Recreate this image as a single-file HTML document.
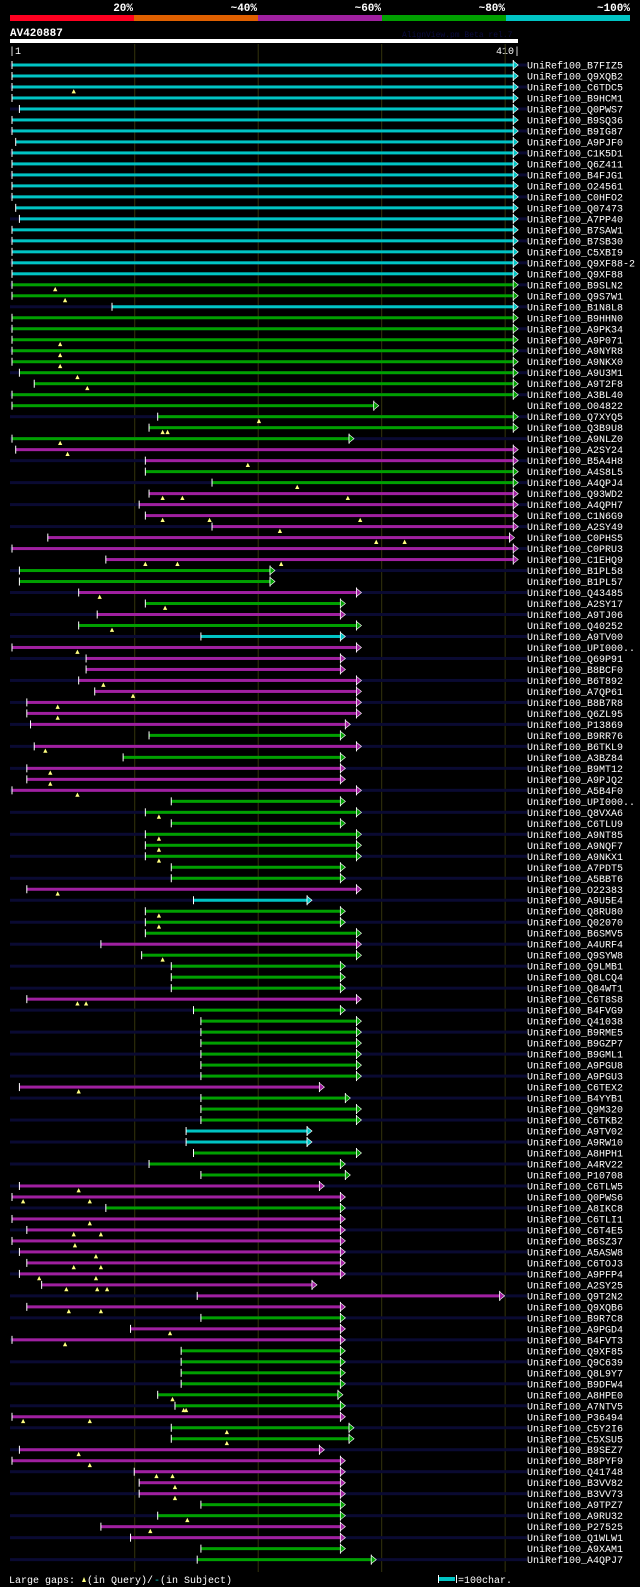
<!DOCTYPE html>
<html><head><meta charset="utf-8">
<style>
html,body{margin:0;padding:0;background:#000;}
body{width:640px;height:1587px;overflow:hidden;position:relative;font-family:"Liberation Mono","DejaVu Sans Mono",monospace;}
svg{position:absolute;left:0;top:0;}
text{font-family:"Liberation Mono","DejaVu Sans Mono",monospace;}
</style></head>
<body>
<svg id="chart" width="640" height="1587" xmlns="http://www.w3.org/2000/svg">
  <g>
    <rect x="10" y="15" width="124" height="6" fill="#ff0020"/>
    <rect x="134" y="15" width="124" height="6" fill="#e06000"/>
    <rect x="258" y="15" width="124" height="6" fill="#a020a0"/>
    <rect x="382" y="15" width="124" height="6" fill="#00a000"/>
    <rect x="506" y="15" width="124" height="6" fill="#00c4c4"/>
    <text x="133" y="11" fill="#fff" font-size="11" font-weight="bold" text-anchor="end">20%</text>
    <text x="257" y="11" fill="#fff" font-size="11" font-weight="bold" text-anchor="end">~40%</text>
    <text x="381" y="11" fill="#fff" font-size="11" font-weight="bold" text-anchor="end">~60%</text>
    <text x="505" y="11" fill="#fff" font-size="11" font-weight="bold" text-anchor="end">~80%</text>
    <text x="630" y="11" fill="#fff" font-size="11" font-weight="bold" text-anchor="end">~100%</text>
  </g>
  <text x="10" y="36" fill="#fff" font-size="11" font-weight="bold">AV420887</text>
  <text x="402" y="37" fill="#0c0c40" font-size="8">AlignView.pm Beta rel.7</text>
  <rect x="10" y="39" width="508" height="4" fill="#fff"/>
  <text x="9" y="54" fill="#fff" font-size="10">|1</text>
  <text x="520" y="54" fill="#fff" font-size="10" text-anchor="end">410|</text>
  <g id="grid"></g>
  <g id="rows"></g>
  <g>
    <text x="9" y="1583" fill="#fff" font-size="10">Large gaps:</text>
    <polygon points="82,1582 84,1577 86,1582" fill="#ffff80"/>
    <text x="87" y="1583" fill="#fff" font-size="10">(in Query)/</text>
    <text x="154" y="1583" fill="#00c4c4" font-size="10">-</text>
    <text x="160" y="1583" fill="#fff" font-size="10"> (in Subject)</text>
    <rect x="439" y="1577" width="16" height="4" fill="#00c4c4"/>
    <rect x="438" y="1575" width="1" height="8" fill="#fff"/>
    <rect x="456" y="1575" width="1" height="8" fill="#fff"/>
    <text x="458" y="1583" fill="#fff" font-size="10">=100char.</text>
  </g>
</svg>
<script>
const names = ["B7FIZ5","Q9XQB2","C6TDC5","B9HCM1","Q0PWS7","B9SQ36","B9IG87","A9PJF0","C1K5D1","Q6Z411","B4FJG1","O24561","C0HFO2","Q07473","A7PP40","B7SAW1","B7SB30","C5XBI9","Q9XF88-2","Q9XF88","B9SLN2","Q9S7W1","B1N8L8","B9HHN0","A9PK34","A9P071","A9NYR8","A9NKX0","A9U3M1","A9T2F8","A3BL40","O04822","Q7XYQ5","Q3B9U8","A9NLZ0","A2SY24","B5A4H8","A4S8L5","A4QPJ4","Q93WD2","A4QPH7","C1N6G9","A2SY49","C0PHS5","C0PRU3","C1EHQ9","B1PL58","B1PL57","Q43485","A2SY17","A9TJ06","Q40252","A9TV00","UPI000..","Q69P91","B8BCF0","B6T892","A7QP61","B8B7R8","Q6ZL95","P13869","B9RR76","B6TKL9","A3BZ84","B9MT12","A9PJQ2","A5B4F0","UPI000..","Q8VXA6","C6TLU9","A9NT85","A9NQF7","A9NKX1","A7PDT5","A5BBT6","O22383","A9U5E4","Q8RU80","Q02070","B6SMV5","A4URF4","Q9SYW8","Q9LMB1","Q8LCQ4","Q84WT1","C6T8S8","B4FVG9","Q41038","B9RME5","B9GZP7","B9GML1","A9PGU8","A9PGU3","C6TEX2","B4YYB1","Q9M320","C6TKB2","A9TV02","A9RW10","A8HPH1","A4RV22","P10708","C6TLW5","Q0PWS6","A8IKC8","C6TLI1","C6T4E5","B6SZ37","A5ASW8","C6TOJ3","A9PFP4","A2SY25","Q9T2N2","Q9XQB6","B9R7C8","A9PGD4","B4FVT3","Q9XF85","Q9C639","Q8L9Y7","B9DFW4","A8HPE0","A7NTV5","P36494","C5Y2I6","C5XSU5","B9SEZ7","B8PYF9","Q41748","B3VV82","B3VV73","A9TPZ7","A9RU32","P27525","Q1WLW1","A9XAM1","A4QPJ7"];
const colors = "cccccccccccccccccccc" + "ggc" + "gggggggggggg" + "mmggmmmmmmm" + "ggmgmgcm" + "mmmmmmmgmgmmm" + "gggggggg" + "mcgggmggggm" + "ggggggg" + "mgggccggg" + "mmgmmmmmmmmm" + "gmmgggggg" + "mggmmmmmggmmgg";
const starts = [1,1,1,1,7,1,1,4,1,1,1,1,1,4,7,1,1,1,1,1,1,1,82,1,1,1,1,1,7,19,1,1,119,112,1,4,109,109,163,112,104,109,163,30,1,77,7,7,55,109,70,55,154,1,61,61,55,68,13,13,16,112,19,91,13,13,1,130,109,130,109,109,109,130,130,13,148,109,109,109,73,106,130,130,130,13,148,154,154,154,154,154,154,7,154,154,154,142,142,148,112,154,7,1,77,1,13,1,7,13,7,25,151,13,154,97,1,138,138,138,138,119,133,1,130,130,7,1,100,104,104,154,119,73,97,154,151];
const ends = [407,407,407,407,407,407,407,407,407,407,407,407,407,407,407,407,407,407,407,407,407,407,407,407,407,407,407,407,407,407,407,294,407,407,274,407,407,407,407,407,407,407,407,404,407,407,210,210,280,267,267,280,267,280,267,267,280,280,280,280,271,267,280,267,267,267,280,267,280,267,280,280,280,267,267,280,240,267,267,280,280,280,267,267,267,280,267,280,280,280,280,280,280,250,271,280,280,240,240,280,267,271,250,267,267,267,267,267,267,267,267,244,396,267,267,267,267,267,267,267,267,265,267,267,274,274,250,267,267,267,267,267,267,267,267,267,292];
const gapRows = [2,20,21,25,26,27,28,29,32,33,33,34,35,36,38,39,39,39,41,41,41,42,43,43,45,45,45,48,49,51,53,56,57,58,59,62,64,65,66,68,70,71,72,75,77,78,81,85,85,93,102,103,103,105,106,106,107,108,109,109,110,110,111,111,111,113,113,115,116,121,122,122,123,123,124,125,126,127,128,128,129,130,132,133];
const gapPos  = [51,36,44,40,40,40,54,62,201,123,127,40,46,192,232,123,139,273,123,161,283,218,296,319,109,135,219,72,125,82,54,75,99,38,38,28,32,32,54,120,120,120,120,38,120,120,123,54,61,55,55,10,64,64,51,73,52,69,51,73,23,69,45,70,78,47,73,129,44,131,140,142,10,64,175,175,55,64,118,131,133,133,143,113];
const gridTicks = [100,200,300,400];

const NS="http://www.w3.org/2000/svg";
const X0=12, K=1.2347;
function xs(v){return X0+(v-1)*K;}
function rowY(i){return 65+i*10.99;}
const colorMap={c:"#00c4c4",g:"#00a000",m:"#a020a0"};
function mk(tag,attrs,parent){const e=document.createElementNS(NS,tag);for(const k in attrs)e.setAttribute(k,attrs[k]);parent.appendChild(e);return e;}

const grid=document.getElementById('grid');
gridTicks.forEach(t=>{
  const l=mk('line',{x1:xs(t)+0.5,x2:xs(t)+0.5,y1:44,y2:1572,stroke:"#34340c","stroke-width":1},grid);
  
  
});

const rows=document.getElementById('rows');
names.forEach((n,i)=>{
  const y=rowY(i);
  const g=mk('g',{},rows);
  
  
  if(i%2===0){
    const bg=mk('rect',{x:10,y:y-1.5,width:517,height:3,fill:"#0a0a32"},g);
    
    
  }
  const col=colorMap[colors[i]];
  const x1=xs(starts[i]), x2=xs(ends[i]);
  const bar=mk('rect',{x:x1,y:y-1.5,width:x2-x1,height:3,fill:col},g);
  
  
  const tick=mk('rect',{x:x1-0.5,y:y-4,width:1,height:8,fill:"#fff"},g);
  
  
  const vl=mk('rect',{x:x2-0.5,y:y-5,width:1,height:10,fill:"#fff"},g);
  
  
  const ar=mk('polygon',{points:`${x2},${y-4} ${x2+5},${y} ${x2},${y+4}`,fill:col,stroke:"#fff","stroke-width":0.6},g);
  
  
  const t=mk('text',{x:527,y:y+3.5,fill:"#fff","font-size":10},g);
  t.textContent="UniRef100_"+n;
  
  
});
gapRows.forEach((r,j)=>{
  const y=rowY(r), x=xs(gapPos[j]);
  const p=mk('polygon',{points:`${x-1.5},${y+6} ${x},${y+3} ${x+1.5},${y+6}`,fill:"#ffff80",stroke:"#ffff80","stroke-width":0.8},rows);
  
  
});
</script>
</body></html>
